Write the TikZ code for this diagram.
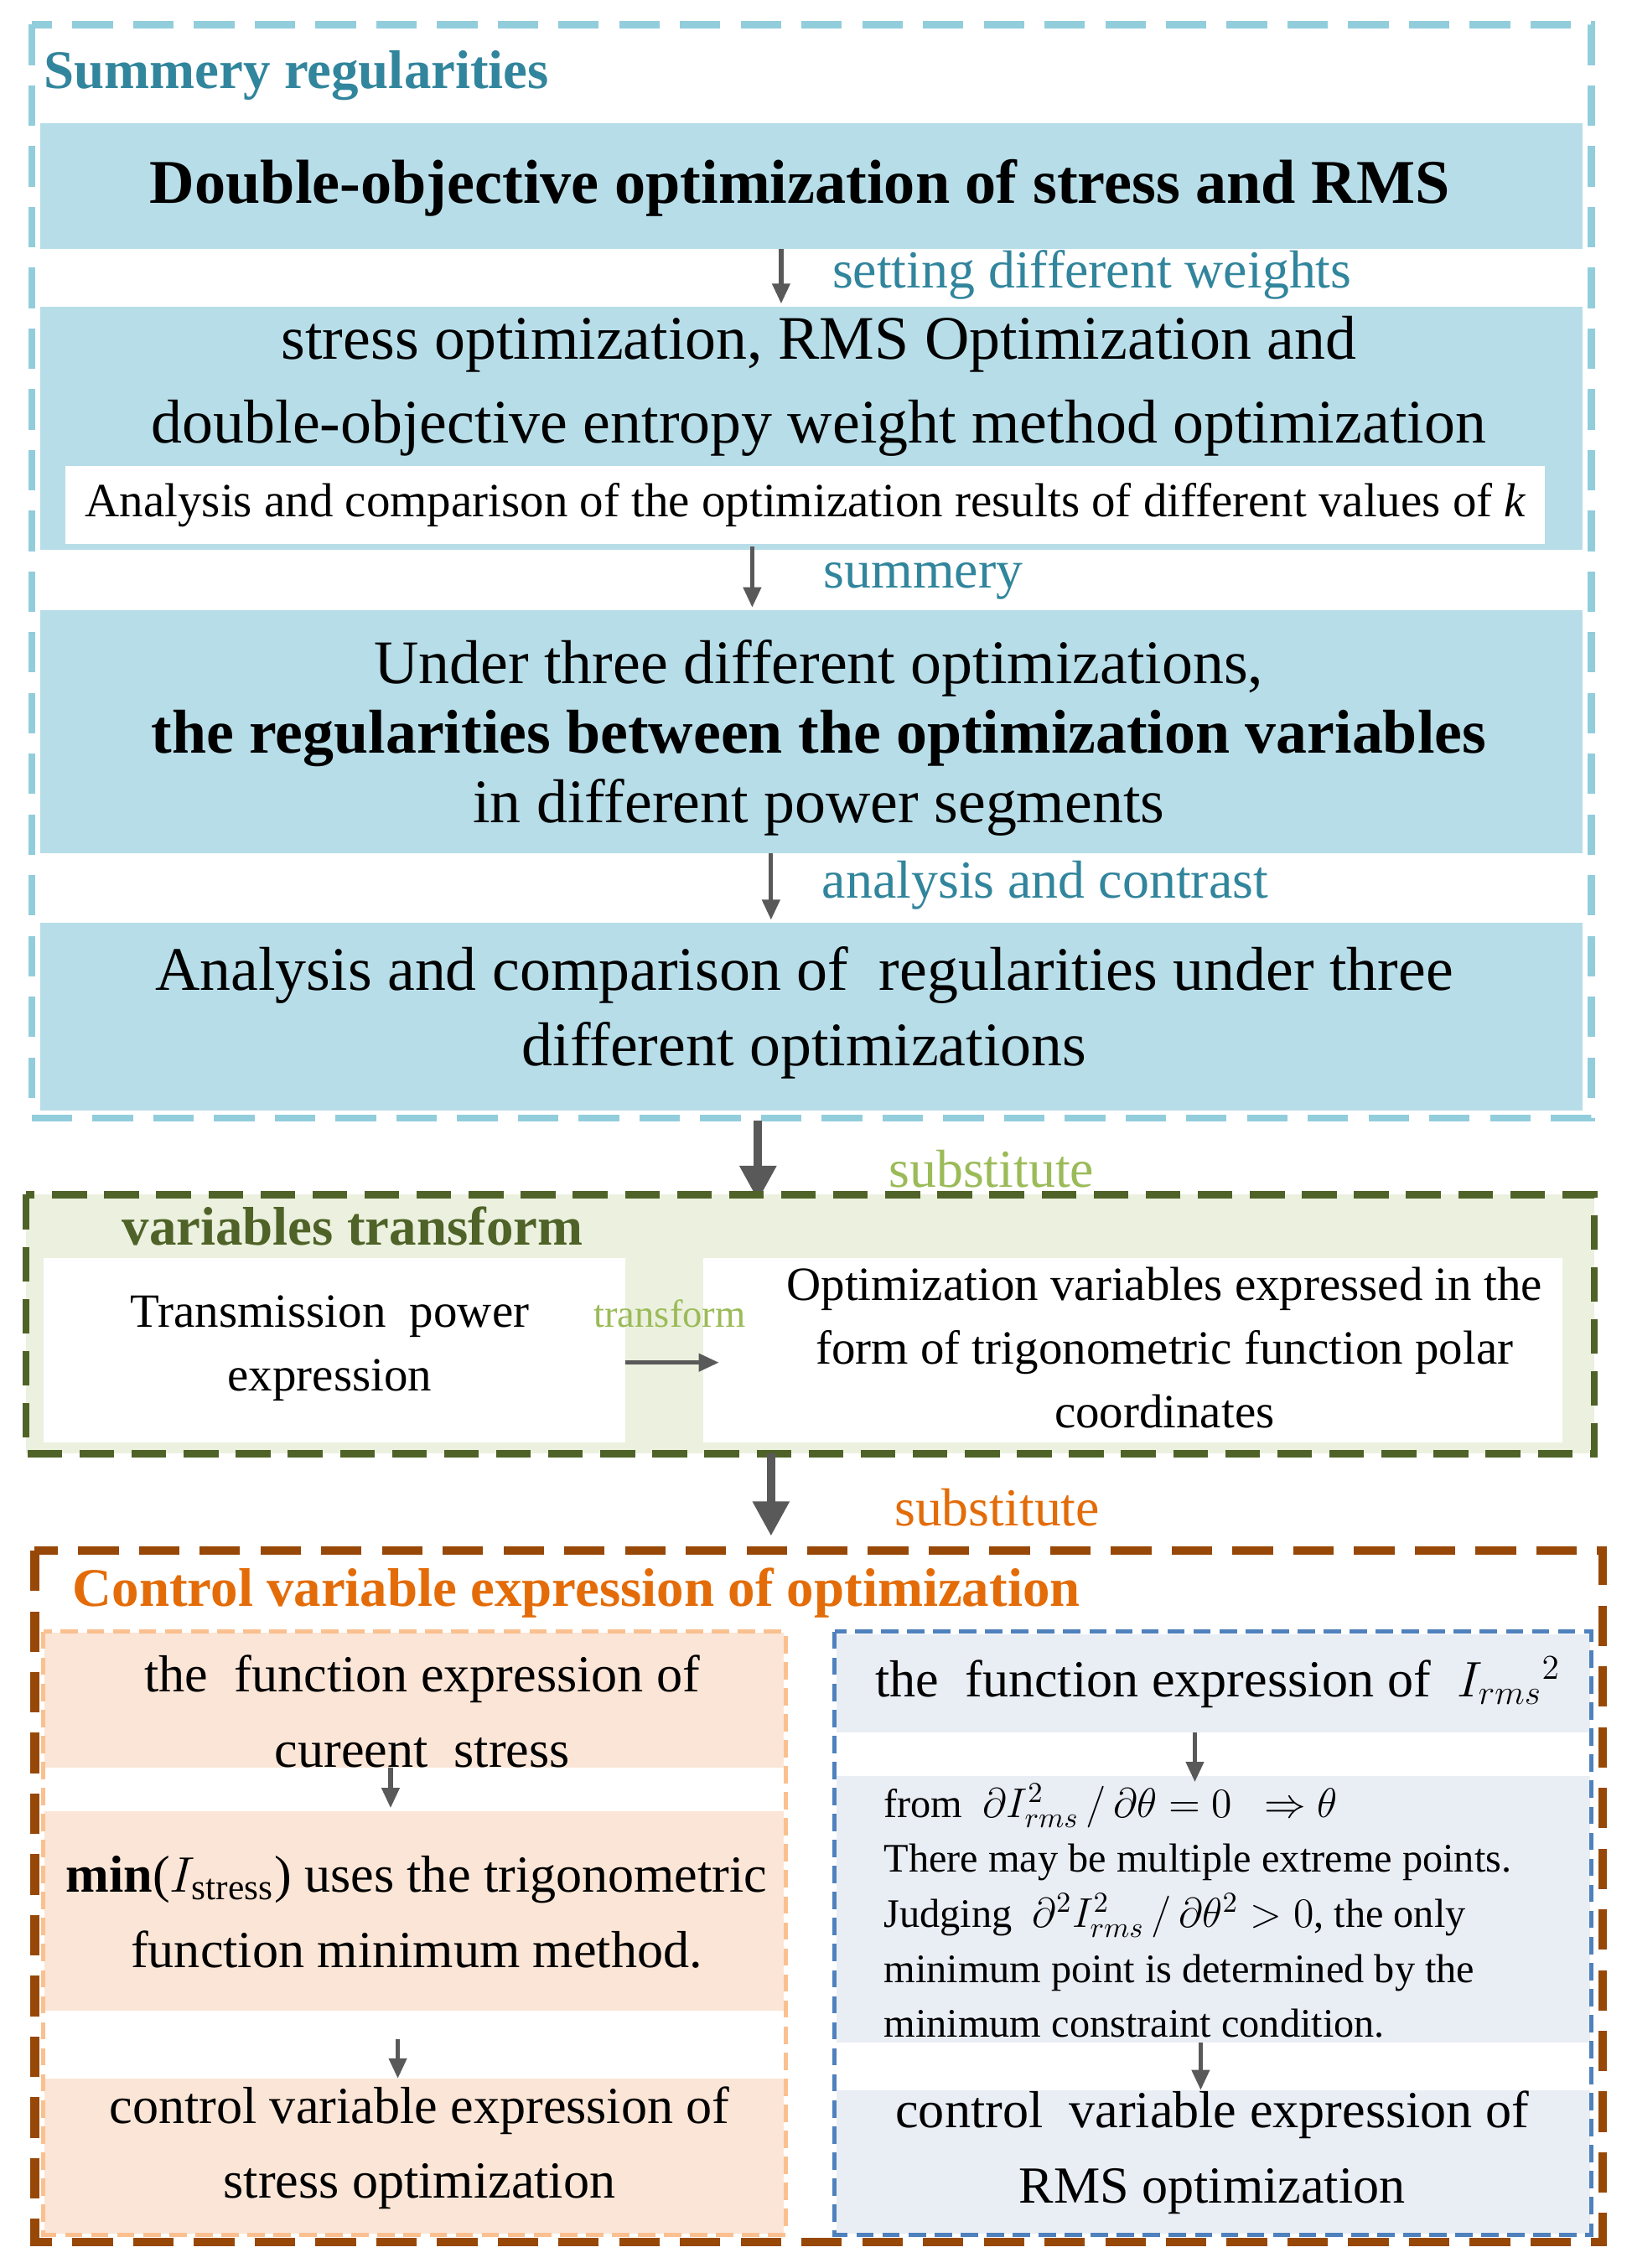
\documentclass[tikz,border=0pt]{standalone}
\usepackage{fontspec}
\setmainfont{Liberation Serif}
\usetikzlibrary{arrows.meta}
\definecolor{teal1}{HTML}{31859C}
\definecolor{bfill}{HTML}{B7DDE8}
\definecolor{bdash}{HTML}{92CDDC}
\definecolor{olv}{HTML}{4F6228}
\definecolor{olvl}{HTML}{9BBB59}
\definecolor{gfill}{HTML}{EBF1DE}
\definecolor{brn}{HTML}{984806}
\definecolor{org}{HTML}{E36C09}
\definecolor{pdash}{HTML}{FAC090}
\definecolor{pfill}{HTML}{FBE5D6}
\definecolor{bldash}{HTML}{4F81BD}
\definecolor{blfill}{HTML}{E9EDF4}
\definecolor{arr}{HTML}{595959}
\tikzset{
 big/.style={font=\fontsize{21.4}{26}\selectfont, align=center},
 sub/.style={font=\fontsize{18}{24}\selectfont, align=center},
 mid/.style={font=\fontsize{16.5}{22}\selectfont, align=center},
 ar/.style={draw=arr, line width=1.5pt, -{Triangle[length=7pt,width=6pt]}},
 bigar/.style={draw=arr, line width=3pt, -{Triangle[length=12pt,width=12pt]}},
 lab/.style={font=\fontsize{18.5}{22}\selectfont, anchor=west, inner sep=0pt},
 ttl/.style={anchor=west, inner sep=0pt, font=\bfseries\fontsize{18.8}{22}\selectfont},
}
\begin{document}
\begin{tikzpicture}[x=0.5pt,y=-0.5pt]
\useasboundingbox (0,0) rectangle (1128,1568);
\fill[white] (0,0) rectangle (1128,1568);
% ---------- box 1
\fill[bfill] (28,85) rectangle (1094,172);
\fill[bfill] (28,212) rectangle (1094,380);
\fill[white] (45,322) rectangle (1068,376);
\fill[bfill] (28,422) rectangle (1094,590);
\fill[bfill] (28,638) rectangle (1094,768);
\draw[bdash, line width=2.5pt, dash pattern=on 14pt off 7pt] (22,17) rectangle (1100,773);
\node[ttl, text=teal1] (t1) at (30,52) {Summery regularities};
\node[font=\bfseries\fontsize{21.5}{26}\selectfont] (A) at (553,130) {Double-objective optimization of stress and RMS};
\node[big] (B) at (566,267) {stress optimization, RMS Optimization and\\[3pt] double-objective entropy weight method optimization};
\node[font=\fontsize{16.5}{18}\selectfont] (Bs) at (557,349) {Analysis and comparison of the optimization results of different values of \textit{k}};
\node[big] (C) at (566,510) {Under three different optimizations,\\[-2pt] \textbf{the regularities between the optimization variables}\\[-2pt] in different power segments};
\node[big] (D) at (556,700) {Analysis and comparison of\ \ regularities under three\\ different optimizations};
\coordinate (a1s) at (540,172); \coordinate (a1e) at (540,210);
\draw[ar] (a1s) -- (a1e);
\node[lab, text=teal1] (l1) at (575,190) {setting different weights};
\coordinate (a2s) at (520,378); \coordinate (a2e) at (520,420);
\draw[ar] (a2s) -- (a2e);
\node[lab, text=teal1] (l2) at (569,402) {summery};
\coordinate (a3s) at (533,590); \coordinate (a3e) at (533,636);
\draw[ar] (a3s) -- (a3e);
\node[lab, text=teal1] (l3) at (568,612) {analysis and contrast};
% ---------- big arrow 1
\coordinate (b1s) at (524,775); \coordinate (b1e) at (524,830);
\draw[bigar] (b1s) -- (b1e);
\node[lab, text=olvl] (s1) at (614,808) {substitute};
% ---------- box 2
\fill[gfill] (18,826) rectangle (1102,1005);
\fill[white] (30,870) rectangle (432,997);
\fill[white] (486,870) rectangle (1080,997);
\draw[olv, line width=2.5pt, dash pattern=on 12pt off 6pt] (18,826) rectangle (1102,1005);
\node[ttl, text=olv] (t2) at (84,848) {variables transform};
\node[mid] (P) at (228,932) {Transmission\ \ power\\ expression};
\node[mid] (Q) at (805,932) {Optimization variables expressed in the\\ form of trigonometric function polar\\ coordinates};
\coordinate (tq) at (497,942);
\draw[ar] (432,942) -- (tq);
\node[font=\fontsize{13.5}{15}\selectfont, text=olvl] (l4) at (463,908) {transform};
% ---------- big arrow 2
\coordinate (b2s) at (533,1005); \coordinate (b2e) at (533,1062);
\draw[bigar] (b2s) -- (b2e);
\node[lab, text=org] (s2) at (618,1042) {substitute};
% ---------- box 3
\fill[pfill] (31,1129) rectangle (542,1222);
\fill[pfill] (31,1252) rectangle (542,1390);
\fill[pfill] (31,1437) rectangle (542,1544);
\fill[blfill] (578,1130) rectangle (1099,1198);
\fill[blfill] (578,1228) rectangle (1099,1412);
\fill[blfill] (578,1445) rectangle (1099,1544);
\draw[pdash, line width=1.5pt, dash pattern=on 6pt off 3pt] (30,1128) rectangle (543,1545);
\draw[bldash, line width=1.5pt, dash pattern=on 6pt off 3pt] (577,1128) rectangle (1100,1545);
\draw[brn, line width=3pt, dash pattern=on 14pt off 7pt] (24,1072) rectangle (1108,1550);
\node[ttl, text=org] (t3) at (50,1101) {Control variable expression of optimization};
\node[sub] (L1) at (292,1183) {the\ \ function expression of\\[2pt] cureent\ \ stress};
\node[sub] (L2) at (288,1322) {\textbf{min}($I_{\mathrm{stress}}$) uses the trigonometric\\[2pt] function minimum method.};
\node[sub] (L3) at (290,1485) {control variable expression of\\[2pt] stress optimization};
\draw[ar] (270,1222) -- (270,1250);
\draw[ar] (275,1410) -- (275,1437);
\node[sub] (R1) at (842,1163) {the\ \ function expression of\ \ $I_{rms}{}^{2}$};
\node[font=\fontsize{14}{19}\selectfont, align=left, anchor=north west] (R2) at (604,1226) {from\ \ $\partial I^2_{rms}\,/\,\partial\theta=0\ \ \Rightarrow\theta$\\ There may be multiple extreme points.\\ Judging\ \ $\partial^2 I^2_{rms}\,/\,\partial\theta^2>0$, the only\\ minimum point is determined by the\\ minimum constraint condition.};
\node[sub] (R3) at (838,1488) {control\ \ variable expression of\\[2pt] RMS optimization};
\draw[ar] (826,1198) -- (826,1232);
\draw[ar] (830,1412) -- (830,1445);
\end{tikzpicture}
\end{document}
